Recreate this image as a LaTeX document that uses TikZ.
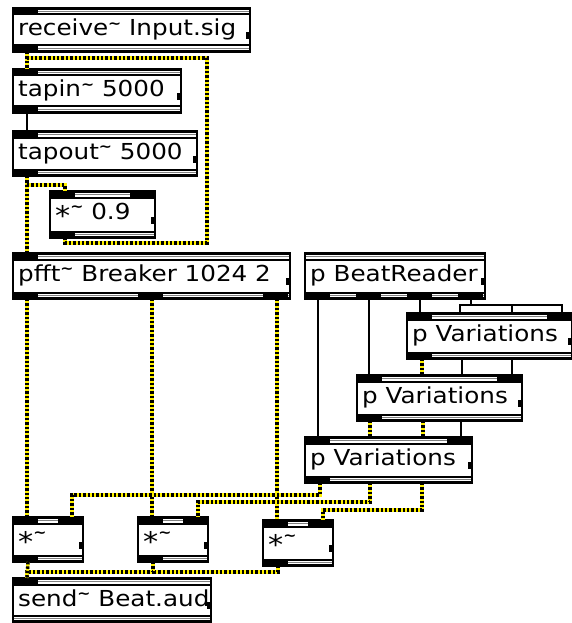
\documentclass[tikz,border=0pt]{standalone}
\usepackage{fontspec}
\setmainfont[FakeStretch=1.12]{DejaVu Sans}
\usetikzlibrary{calc}
\newcommand\tld{\raisebox{7.5pt}{\fontsize{14}{14}\selectfont\bfseries\textasciitilde}}
\newcommand\mstar{\raisebox{-6pt}{\fontsize{27}{27}\selectfont *}}
\tikzset{
  obj/.style={draw, line width=1.3pt, fill=white, anchor=north west, inner sep=0pt, outer sep=0pt},
  lbl/.style={anchor=base west, inner sep=0pt, font=\fontsize{22}{24}\selectfont},
  sig/.style={draw=yellow, line width=3.4pt, postaction={draw=black, line width=3.4pt, dash pattern=on 2.4pt off 2pt}},
  ctl/.style={draw=black, line width=1.2pt}
}
% one object box: name, x, y, width, height, text
\newcommand\maxobj[6]{%
  \node[obj, minimum width=#4, minimum height=#5] (#1) at (#2,#3) {};
  \fill (#1.north west) rectangle ($(#1.north east)+(0,7.5)$);
  \fill ($(#1.south west)+(0,-7.5)$) rectangle (#1.south east);
  \fill[white] ($(#1.north west)+(1,2)$) rectangle ($(#1.north east)+(-1,5.5)$);
  \fill[white] ($(#1.south west)+(1,-2)$) rectangle ($(#1.south east)+(-1,-5.5)$);
  \draw[gray, line width=1.3pt] ($(#1.north west)+(1,3.8)$) -- ($(#1.north east)+(-1,3.8)$);
  \draw[gray, line width=1.3pt] ($(#1.south west)+(1,-3.8)$) -- ($(#1.south east)+(-1,-3.8)$);
  \fill ($(#1.east)+(-4,2)$) rectangle ($(#1.east)+(0,9)$);
  \node[lbl] (#1t) at ($(#1.north west)+(5,28)$) {#6};
}
\newcommand\inlets[2]{\foreach \d in {#2} {\fill ($(#1.north west)+(\d,0)$) rectangle ++(25,7.5);}}
\newcommand\outlets[2]{\foreach \d in {#2} {\fill ($(#1.south west)+(\d,-7.5)$) rectangle ++(25,7.5);}}

\begin{document}
\begin{tikzpicture}[x=1pt, y=-1pt]
  \useasboundingbox (0,0) rectangle (571,623);

  \maxobj{recv}{13}{8}{237}{44}{receive\tld\ Input.sig}
  \inlets{recv}{0} \outlets{recv}{0}
  \maxobj{tapin}{13}{69}{168}{44}{tapin\tld\ 5000}
  \inlets{tapin}{0} \outlets{tapin}{0}
  \maxobj{tapout}{13}{131}{184}{45}{tapout\tld\ 5000}
  \inlets{tapout}{0} \outlets{tapout}{0}
  \maxobj{mul}{50}{191}{105}{47}{\mstar\tld\ 0.9}
  \inlets{mul}{0,80} \outlets{mul}{0}
  \maxobj{pfft}{13}{253}{277}{46}{pfft\tld\ Breaker 1024 2}
  \inlets{pfft}{0} \outlets{pfft}{0,125,250}
  \maxobj{beat}{305}{253}{180}{46}{p BeatReader}
  \outlets{beat}{0,51,102,153}
  \maxobj{varA}{407}{313}{165}{46}{p Variations}
  \inlets{varA}{0,140} \outlets{varA}{0}
  \maxobj{varB}{357}{375}{165}{46}{p Variations}
  \inlets{varB}{0,140} \outlets{varB}{0}
  \maxobj{varC}{305}{437}{167}{46}{p Variations}
  \inlets{varC}{0,142} \outlets{varC}{0}
  \maxobj{multA}{13}{517}{70}{45}{\mstar\tld}
  \inlets{multA}{0,45} \outlets{multA}{0}
  \maxobj{multB}{138}{517}{70}{45}{\mstar\tld}
  \inlets{multB}{0,45} \outlets{multB}{0}
  \maxobj{multC}{263}{520}{70}{46}{\mstar\tld}
  \inlets{multC}{0,45} \outlets{multC}{0}
  \maxobj{send}{13}{578}{198}{44}{send\tld\ Beat.aud}
  \inlets{send}{0}

  % delay line with feedback
  \draw[sig] ($(recv.south west)+(14,0)$) -- ($(tapin.north west)+(14,0)$);
  \draw[sig] ($(mul.south west)+(15,0)$) -- ++(0,5) -- ++(142,0)
    |- ($(tapin.north west)+(14,-11)$) -- ($(tapin.north west)+(14,0)$);
  \draw[ctl] ($(tapin.south west)+(14,0)$) -- ($(tapout.north west)+(14,0)$);
  \draw[sig] ($(tapout.south west)+(14,0)$) -- ($(pfft.north west)+(14,0)$);
  \draw[sig] ($(tapout.south west)+(14,0)$) |- ($(mul.north west)+(15,-6)$) -- ($(mul.north west)+(15,0)$);

  % spectral bands
  \draw[sig] ($(pfft.south west)+(14,0)$) -- ($(multA.north west)+(14,0)$);
  \draw[sig] ($(pfft.south west)+(139,0)$) -- ($(multB.north west)+(14,0)$);
  \draw[sig] ($(pfft.south west)+(264,0)$) -- ($(multC.north west)+(14,0)$);

  % beat control
  \draw[ctl] ($(beat.south west)+(13,0)$) -- ($(varC.north west)+(13,0)$);
  \draw[ctl] ($(beat.south west)+(64,0)$) -- ($(varB.north west)+(12,0)$);
  \draw[ctl] ($(beat.south west)+(115,0)$) -- ($(varA.north west)+(13,0)$);
  \foreach \t in {53,105,155}
    \draw[ctl] ($(beat.south west)+(166,0)$) -- ++(0,6) -| ($(varA.north west)+(\t,0)$);

  \draw[sig] ($(varA.south west)+(15,0)$) -- ($(varB.north west)+(65,0)$);
  \draw[ctl] ($(varA.south west)+(55,0)$) -- ($(varB.north west)+(105,0)$);
  \draw[ctl] ($(varA.south west)+(105,0)$) -- ($(varB.north west)+(155,0)$);
  \draw[sig] ($(varB.south west)+(13,0)$) -- ($(varC.north west)+(65,0)$);
  \draw[sig] ($(varB.south west)+(66,0)$) -- ($(varC.north west)+(118,0)$);
  \draw[ctl] ($(varB.south west)+(104,0)$) -- ($(varC.north west)+(156,0)$);

  \draw[sig] ($(varC.south west)+(15,0)$) -- ++(0,12) -| ($(multA.north west)+(59,0)$);
  \draw[sig] ($(varC.south west)+(65,0)$) -- ++(0,19) -| ($(multB.north west)+(60,0)$);
  \draw[sig] ($(varC.south west)+(117,0)$) -- ++(0,27) -| ($(multC.north west)+(60,0)$);

  % mix to output
  \draw[sig] ($(multC.south west)+(15,0)$) |- ($(send.north west)+(14,-6)$) -- ($(send.north west)+(14,0)$);
  \draw[sig] ($(multB.south west)+(15,0)$) |- ($(send.north west)+(14,-6)$);
  \draw[sig] ($(multA.south west)+(15,0)$) -- ($(send.north west)+(14,0)$);
\end{tikzpicture}
\end{document}
